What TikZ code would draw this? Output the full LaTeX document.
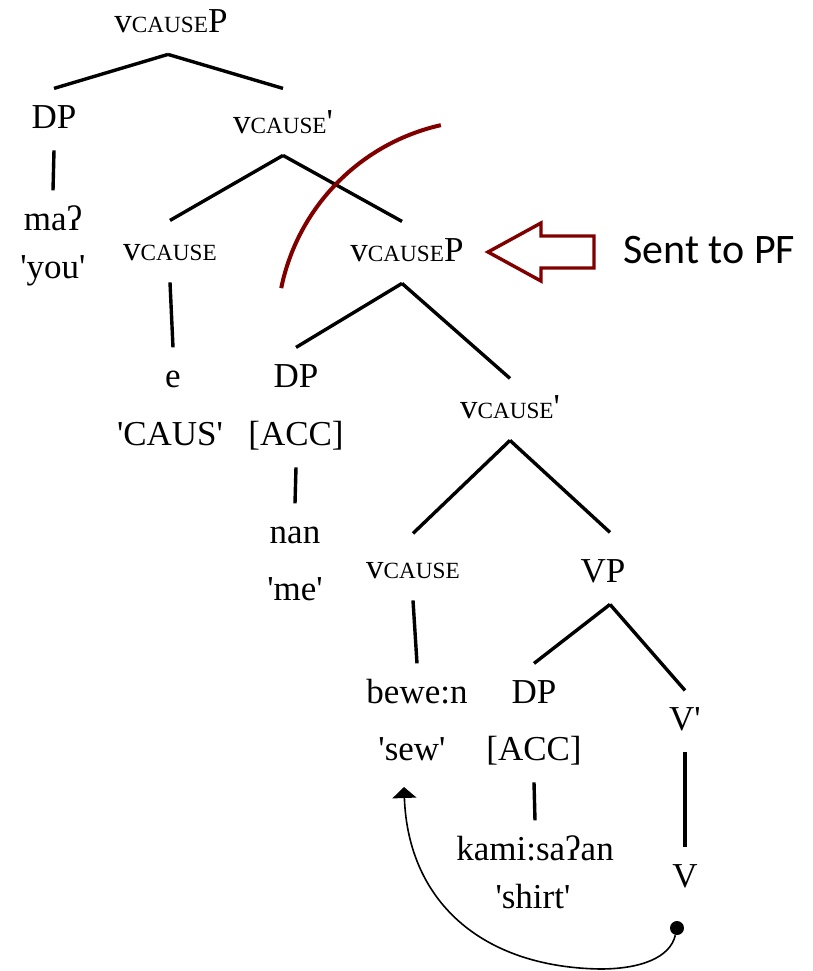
\documentclass[tikz,border=0pt]{standalone}
\usepackage{fontspec}
\setmainfont{Liberation Serif}[Ligatures=TeXOff]
\newfontfamily\sentfont{Carlito}
\usetikzlibrary{arrows.meta}
\definecolor{darkred}{RGB}{128,0,0}
\newcommand\smcx[1]{{\fontsize{11.6pt}{13pt}\selectfont #1}}
\newcommand\vcause{v\smcx{CAUSE}}
\begin{document}
\begin{tikzpicture}[x=0.5pt,y=-0.5pt,
  tn/.style={anchor=base, inner xsep=0pt, inner ysep=8pt, text height=11.6pt, text depth=3pt, font=\fontsize{17.5pt}{21pt}\selectfont},
  br/.style={line width=1.7pt},
]
\path[use as bounding box] (0,0) rectangle (813,971);
% nodes
\node[tn] (vcp1) at (171,32) {\vcause P};
\node[tn] (dp1) at (54,128) {DP};
\node[tn] (vcb1) at (283,133) {\vcause'};
\node[tn] (ma) at (53,230) {maʔ};
\node[tn] (you) at (53,278) {'you'};
\node[tn] (vc1) at (170,260) {\vcause};
\node[tn] (vcp2) at (407,261) {\vcause P};
\node[tn] (e) at (173,387) {e};
\node[tn] (caus) at (170,445) {'CAUS'};
\node[tn] (dp2) at (296,387) {DP};
\node[tn] (acc1) at (296,445) {[ACC]};
\node[tn] (nan) at (295,543) {nan};
\node[tn] (me) at (295,600) {'me'};
\node[tn] (vcb2) at (510,418) {\vcause'};
\node[tn] (vc2) at (413,578) {\vcause};
\node[tn] (vp) at (603,582) {VP};
\node[tn] (bewen) at (417,703) {bewe:n};
\node[tn] (sew) at (412,760) {'sew'};
\node[tn] (dp3) at (534,703) {DP};
\node[tn] (acc2) at (534,760) {[ACC]};
\node[tn] (vbar) at (685,730) {V'};
\node[tn] (kami) at (535,860) {kami:saʔan};
\node[tn] (shirt) at (533,908) {'shirt'};
\node[tn] (v) at (685,887) {V};
\node[circle, fill, inner sep=0pt, minimum size=7pt] (dot) at (677,928) {};
\coordinate (tip) at (404,787);
\node[anchor=base west, inner sep=0pt, font=\sentfont\fontsize{21pt}{25pt}\selectfont] (sent) at (623,263) {Sent to PF};
% branches
\draw[br] ([xshift=-1.5pt]vcp1.south) -- (dp1.north);
\draw[br] ([xshift=-1.5pt]vcp1.south) -- ([yshift=2.5pt]vcb1.north);
\draw[br] (dp1.south) -- (ma.north);
\draw[br] (vcb1.south) -- (vc1.north);
\draw[br] (vcb1.south) -- ([xshift=-2.5pt]vcp2.north);
\draw[br] (vc1.south) -- (e.north);
\draw[br] ([xshift=-2.5pt]vcp2.south) -- (dp2.north);
\draw[br] ([xshift=-2.5pt]vcp2.south) -- (vcb2.north);
\draw[br] (acc1.south) -- (nan.north);
\draw[br] (vcb2.south) -- ([yshift=2.5pt]vc2.north);
\draw[br] (vcb2.south) -- ([xshift=3.5pt,yshift=5pt]vp.north);
\draw[br] (vc2.south) -- (bewen.north);
\draw[br] ([xshift=3.5pt]vp.south) -- (dp3.north);
\draw[br] ([xshift=3.5pt]vp.south) -- (vbar.north);
\draw[br] (acc2.south) -- (kami.north);
\draw[br] (vbar.south) -- (v.north);
% movement arrow
\draw[line width=0.8pt, -{Triangle[width=12pt,length=5.5pt]}] (dot) .. controls (670,958) and (640,969) .. (600,969) .. controls (480,967) and (408,900) .. (tip);
% spell-out arc
\draw[darkred, line width=2pt] (487,330) ++(168.5:105pt) arc[start angle=168.5, end angle=102.7, radius=105pt];
% hollow arrow
\draw[darkred, line width=1.7pt, line join=miter] (488,252) -- (541,223) -- (541,236) -- (594,236) -- (594,268) -- (541,268) -- (541,281) -- cycle;
\end{tikzpicture}
\end{document}
